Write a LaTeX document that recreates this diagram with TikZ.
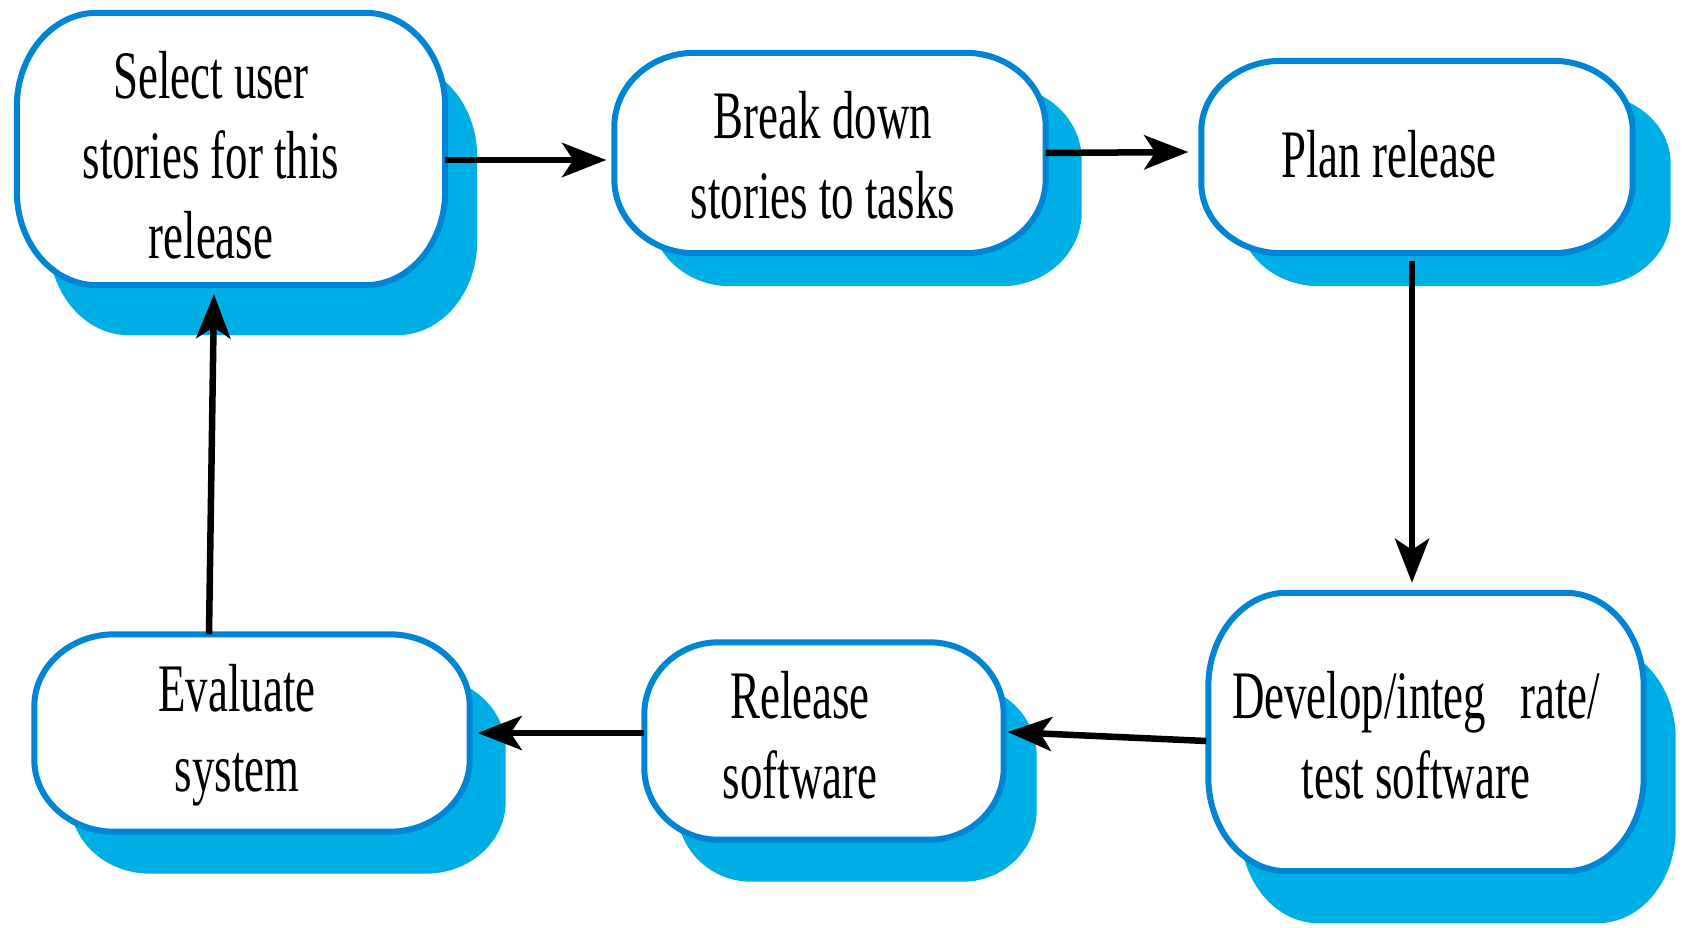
\documentclass[tikz,border=0pt]{standalone}
\usepackage{fontspec}
\setmainfont{Liberation Serif}
\newfontfamily\boxfont[FakeStretch=0.66]{Liberation Serif}
\usetikzlibrary{arrows.meta,calc}

\definecolor{frameblue}{RGB}{0,132,212}
\definecolor{shadeblue}{RGB}{0,174,230}

\tikzset{
  stage/.style={rectangle, draw=none, inner sep=0pt},
  stagetext/.style={font=\boxfont\fontsize{68}{80}\selectfont, align=center, inner sep=0pt},
  flow/.style={line width=6.5pt, -{Stealth[length=44pt,width=34pt,inset=11pt]}},
  frame/.style={draw=frameblue, line width=6pt, fill=white},
  shade/.style={fill=shadeblue},
}

% Rounded box with elliptical corners around node #1:
% #2 x radius, #3 y radius, #4 x shift, #5 y shift, #6 path style
\newcommand\pillbox[6]{%
  \path[#6] let \p1=(#1.south west), \p2=(#1.north east) in
    ($(\x1+#2+#4,\y2+#5)$) -- ($(\x2-#2+#4,\y2+#5)$)
    arc[start angle=90,end angle=0,x radius=#2,y radius=#3]
    -- ($(\x2+#4,\y1+#3+#5)$)
    arc[start angle=0,end angle=-90,x radius=#2,y radius=#3]
    -- ($(\x1+#2+#4,\y1+#5)$)
    arc[start angle=270,end angle=180,x radius=#2,y radius=#3]
    -- ($(\x1+#4,\y2-#3+#5)$)
    arc[start angle=180,end angle=90,x radius=#2,y radius=#3] -- cycle;}

\begin{document}
\begin{tikzpicture}[x=1pt,y=1pt]
\useasboundingbox (0,0) rectangle (1686,-927);

% stage outlines
\node[stage, minimum width=428pt, minimum height=272pt] (sel) at (231,-149) {};
\node[stage, minimum width=431pt, minimum height=200pt] (brk) at (830,-153) {};
\node[stage, minimum width=431pt, minimum height=192pt] (pln) at (1417,-157) {};
\node[stage, minimum width=435pt, minimum height=278pt] (dev) at (1426,-732) {};
\node[stage, minimum width=359pt, minimum height=197pt] (rel) at (824,-741) {};
\node[stage, minimum width=435pt, minimum height=197pt] (eva) at (252,-733) {};

% drop shadows
\pillbox{sel}{80pt}{94pt}{32pt}{-50pt}{shade}
\pillbox{brk}{80pt}{74pt}{36pt}{-33pt}{shade}
\pillbox{pln}{80pt}{70pt}{38pt}{-33pt}{shade}
\pillbox{dev}{78pt}{94pt}{32pt}{-52pt}{shade}
\pillbox{rel}{74pt}{72pt}{33pt}{-42pt}{shade}
\pillbox{eva}{80pt}{72pt}{36pt}{-42pt}{shade}

% white boxes
\pillbox{sel}{80pt}{94pt}{0pt}{0pt}{frame}
\pillbox{brk}{80pt}{74pt}{0pt}{0pt}{frame}
\pillbox{pln}{80pt}{70pt}{0pt}{0pt}{frame}
\pillbox{dev}{78pt}{94pt}{0pt}{0pt}{frame}
\pillbox{rel}{74pt}{72pt}{0pt}{0pt}{frame}
\pillbox{eva}{80pt}{72pt}{0pt}{0pt}{frame}

% labels
\node[stagetext] (selt) at (211,-155) {Select user\\stories for this\\release};
\node[stagetext] (brkt) at (823,-155) {Break down\\stories to tasks};
\node[stagetext] (plnt) at (1389,-154) {Plan release};
\node[stagetext] (devt) at (1416,-735) {Develop/integ\hspace{34pt}rate/\\test software};
\node[stagetext] (relt) at (800,-735) {Release\\software};
\node[stagetext] (evat) at (237,-735) {Evaluate\\system};

% flow between stages
\draw[flow] ([yshift=-11pt]sel.east) -- ([shift={(-8pt,-7pt)}]brk.west);
\draw[flow] (brk.east) -- ([shift={(-13pt,5pt)}]pln.west);
\draw[flow] ([shift={(-5pt,-8pt)}]pln.south) -- ([shift={(-14pt,10pt)}]dev.north);
\draw[flow] ([shift={(-2pt,-9pt)}]dev.west) -- ([shift={(4pt,9pt)}]rel.east);
\draw[flow] ([yshift=8pt]rel.west) -- ([xshift=8pt]eva.east);
\draw[flow] ([xshift=-43pt]eva.north) -- ([shift={(-17pt,-9pt)}]sel.south);
\end{tikzpicture}
\end{document}
